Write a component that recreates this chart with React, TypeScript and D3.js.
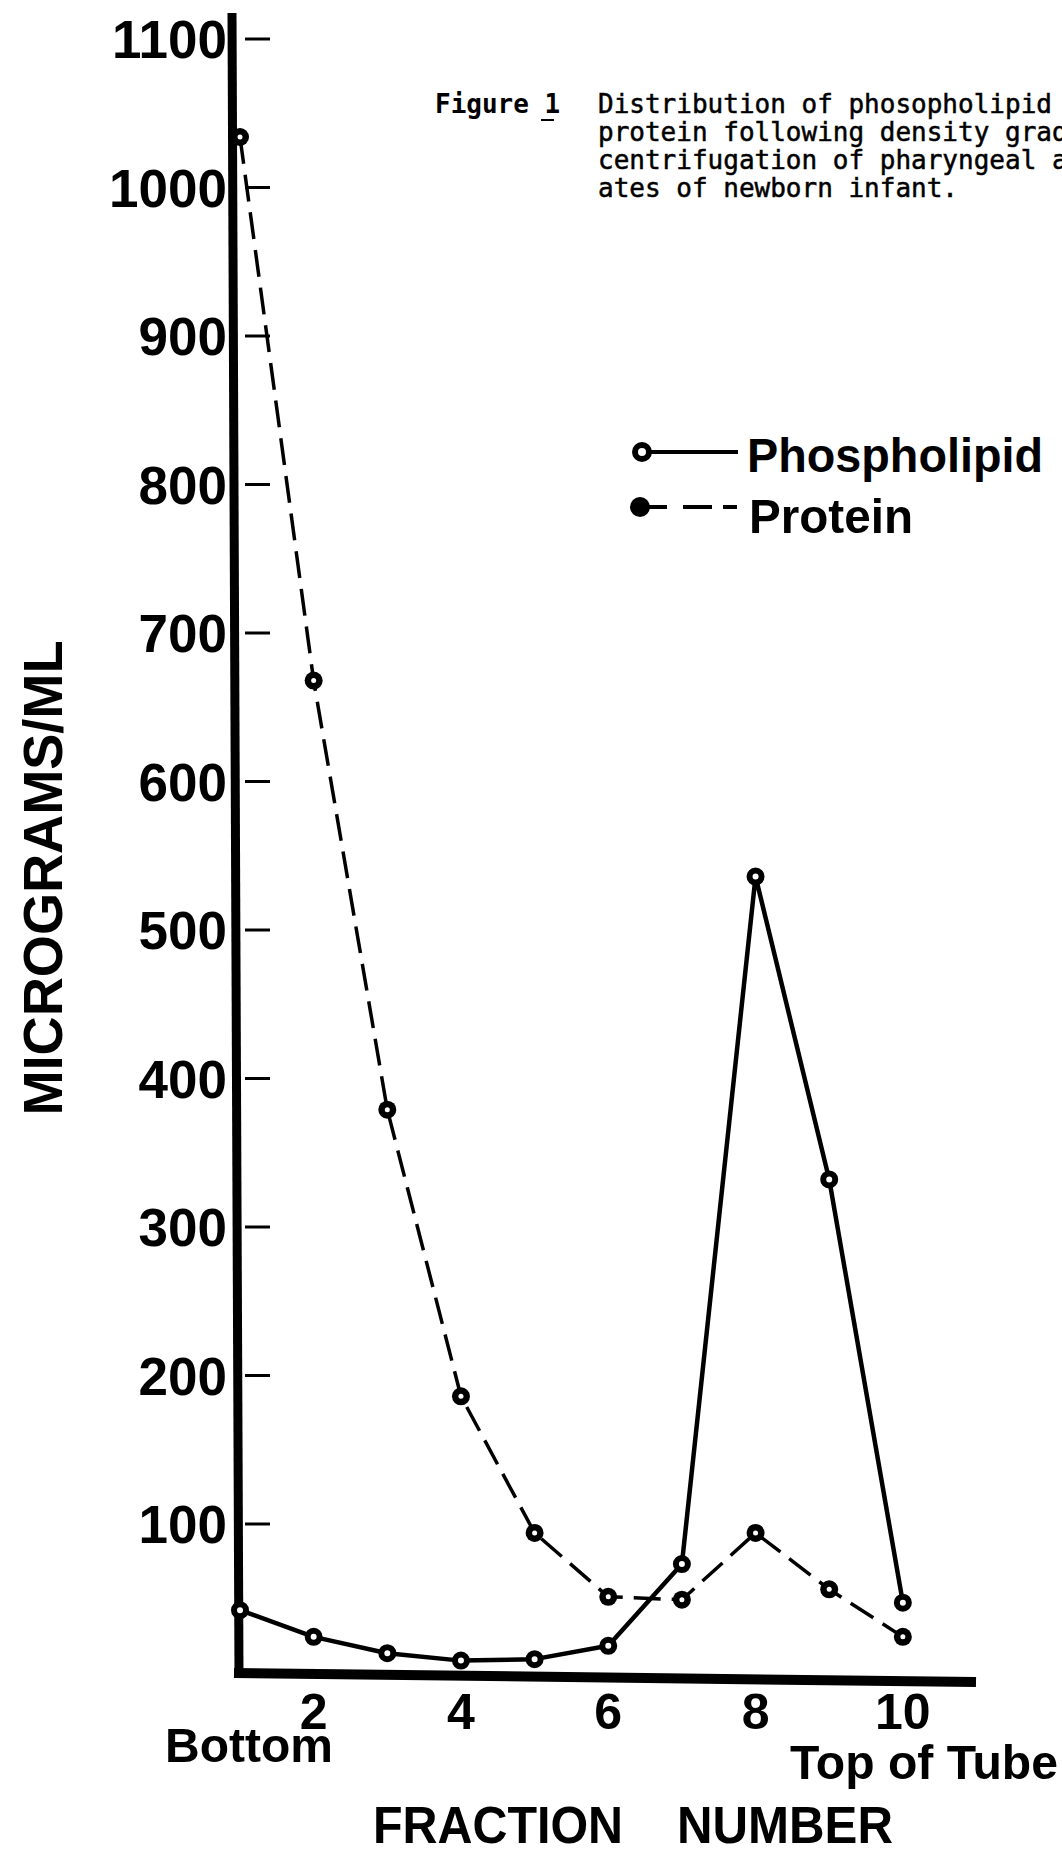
import React from "react";
import * as d3 from "d3";

const fractions = [1, 2, 3, 4, 5, 6, 7, 8, 9, 10];
const phospholipid = [42, 24, 13, 8, 9, 18, 73, 536, 332, 47];
const protein = [1034, 668, 379, 186, 94, 51, 49, 94, 56, 24];
const yTicks = [100, 200, 300, 400, 500, 600, 700, 800, 900, 1000, 1100];
const xTicks = [2, 4, 6, 8, 10];
const captionLines = [
  "Distribution of phosopholipid",
  "protein following density grad",
  "centrifugation of pharyngeal a",
  "ates of newborn infant.",
];

const W = 1062;
const H = 1853;
const SANS = "'Liberation Sans', Arial, sans-serif";
const MONO = "'DejaVu Sans Mono', 'Liberation Mono', monospace";

export default function App() {
  const x = d3.scaleLinear().domain([1, 10]).range([240, 240 + 9 * 73.65]);
  const y = d3.scaleLinear().domain([0, 1100]).range([1672.5, 39]);

  const line = d3
    .line<[number, number]>()
    .x((d) => x(d[0]))
    .y((d) => y(d[1]));

  const phosPts: [number, number][] = fractions.map((f, i) => [f, phospholipid[i]]);
  const protPts: [number, number][] = fractions.map((f, i) => [f, protein[i]]);

  return (
    <svg
      width={W}
      height={H}
      viewBox={`0 0 ${W} ${H}`}
      style={{ position: "absolute", left: 0, top: 0, display: "block", background: "#fff" }}
    >
      <rect x={0} y={0} width={W} height={H} fill="#fff" />

      {/* caption */}
      <text x={435} y={113} fontFamily={MONO} fontWeight="bold" fontSize={26} fill="#000">
        Figure 1
      </text>
      <line x1={541} x2={554} y1={120} y2={120} stroke="#000" strokeWidth={2} />
      {captionLines.map((t, i) => (
        <text
          key={i}
          x={598}
          y={113 + i * 28}
          fontFamily={MONO}
          fontSize={26}
          fill="#000"
          stroke="#000"
          strokeWidth={0.5}
          style={{ whiteSpace: "pre" }}
        >
          {t}
        </text>
      ))}

      {/* y axis */}
      <line x1={232} y1={13} x2={239} y2={1677} stroke="#000" strokeWidth={9} />
      {yTicks.map((v) => (
        <g key={v}>
          <line x1={245} x2={270} y1={y(v)} y2={y(v)} stroke="#000" strokeWidth={3} />
          <text
            x={227}
            y={y(v)}
            dy="0.36em"
            textAnchor="end"
            fontFamily={SANS}
            fontWeight="bold"
            fontSize={53}
            fill="#000"
          >
            {v}
          </text>
        </g>
      ))}
      <text
        transform={`translate(62, 878) rotate(-90)`}
        textAnchor="middle"
        fontFamily={SANS}
        fontWeight="bold"
        fontSize={56}
        textLength={475}
        lengthAdjust="spacingAndGlyphs"
        fill="#000"
      >
        MICROGRAMS/ML
      </text>

      {/* x axis */}
      <line x1={234} y1={1673} x2={976} y2={1682} stroke="#000" strokeWidth={10} />
      {xTicks.map((v) => (
        <text
          key={v}
          x={x(v)}
          y={1729}
          textAnchor="middle"
          fontFamily={SANS}
          fontWeight="bold"
          fontSize={50}
          fill="#000"
        >
          {v}
        </text>
      ))}
      <text x={165} y={1762} fontFamily={SANS} fontWeight="bold" fontSize={49} textLength={168} lengthAdjust="spacingAndGlyphs" fill="#000">
        Bottom
      </text>
      <text x={790} y={1779} fontFamily={SANS} fontWeight="bold" fontSize={49} textLength={268} lengthAdjust="spacingAndGlyphs" fill="#000">
        Top of Tube
      </text>
      <text x={373} y={1843} fontFamily={SANS} fontWeight="bold" fontSize={51} textLength={250} lengthAdjust="spacingAndGlyphs" fill="#000">
        FRACTION
      </text>
      <text x={677} y={1843} fontFamily={SANS} fontWeight="bold" fontSize={51} textLength={216} lengthAdjust="spacingAndGlyphs" fill="#000">
        NUMBER
      </text>

      {/* protein: dashed */}
      <path
        d={line(protPts) || ""}
        fill="none"
        stroke="#000"
        strokeWidth={3.5}
        strokeDasharray="27 11"
      />
      {protPts.map((p, i) => (
        <g key={"pr" + i}>
          <circle cx={x(p[0])} cy={y(p[1])} r={9} fill="#000" />
          <circle cx={x(p[0])} cy={y(p[1])} r={2.5} fill="#fff" />
        </g>
      ))}

      {/* phospholipid: solid */}
      <path d={line(phosPts) || ""} fill="none" stroke="#000" strokeWidth={4.5} strokeLinejoin="round" />
      {phosPts.map((p, i) => (
        <circle key={"ph" + i} cx={x(p[0])} cy={y(p[1])} r={6} fill="#fff" stroke="#000" strokeWidth={6} />
      ))}

      {/* legend */}
      <line x1={642} x2={738} y1={452} y2={452} stroke="#000" strokeWidth={4} />
      <circle cx={642} cy={452} r={7} fill="#fff" stroke="#000" strokeWidth={6} />
      <text x={747} y={472} fontFamily={SANS} fontWeight="bold" fontSize={49} textLength={296} lengthAdjust="spacingAndGlyphs" fill="#000">
        Phospholipid
      </text>
      <line x1={640} x2={737} y1={507} y2={507} stroke="#000" strokeWidth={4} strokeDasharray="27 16 29 11 14" />
      <circle cx={640} cy={507} r={10} fill="#000" />
      <text x={749} y={533} fontFamily={SANS} fontWeight="bold" fontSize={49} textLength={164} lengthAdjust="spacingAndGlyphs" fill="#000">
        Protein
      </text>
    </svg>
  );
}
